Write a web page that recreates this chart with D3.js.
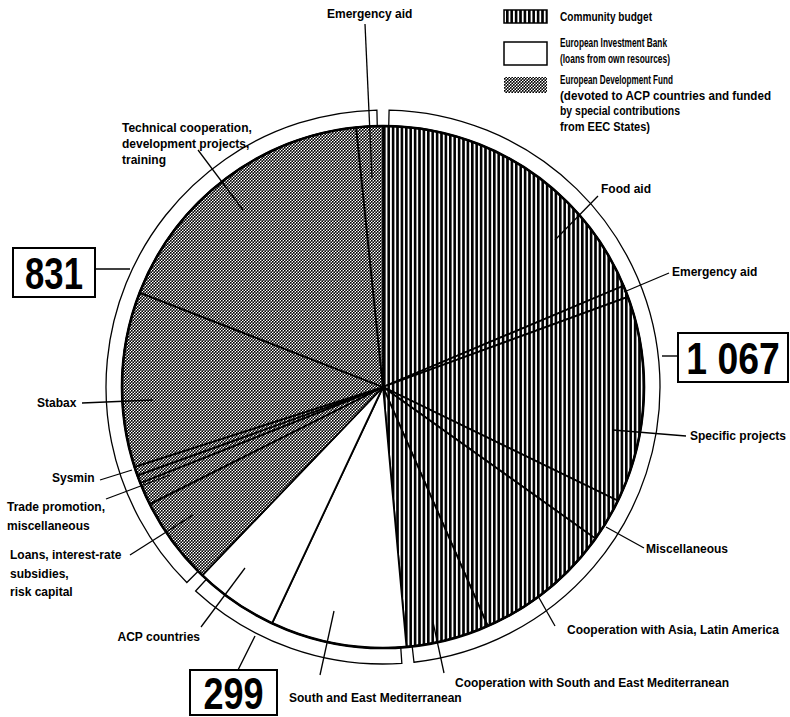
<!DOCTYPE html>
<html>
<head>
<meta charset="utf-8">
<script src="https://cdn.jsdelivr.net/npm/d3@7"></script>
<style>
  body { margin: 0; background: #fff; }
  svg { display: block; }
  text { font-family: "Liberation Sans", Arial, sans-serif; font-weight: bold; fill: #000; }
</style>
</head>
<body>
<svg id="chart"></svg>
<script>
// group totals (million ECU), clockwise from the top
const groupNames = ["Community budget", "European Investment Bank", "European Development Fund"];
const groupTotals = [1067, 299, 831];
const groupTotalLabels = ["1 067", "299", "831"];

// Community budget slices
const budgetLabels = ["Food aid", "Emergency aid", "Specific projects", "Miscellaneous",
  "Cooperation with Asia, Latin America", "Cooperation with South and East Mediterranean"];
const budgetValues = [410, 16, 281, 59, 188, 113];

// European Investment Bank slices
const eibLabels = ["South and East Mediterranean", "ACP countries"];
const eibValues = [185, 114];

// European Development Fund slices
const edfLabels = ["Loans, interest-rate subsidies, risk capital", "Trade promotion", "miscellaneous",
  "Sysmin", "Stabax", "Technical cooperation, development projects, training", "Emergency aid"];
const edfValues = [119, 31, 11, 12, 238, 384, 36];

const legendLines = [
  ["Community budget"],
  ["European Investment Bank", "(loans from own resources)"],
  ["European Development Fund", "(devoted to ACP countries and funded", "by special contributions", "from EEC States)"]
];

const width = 790, height = 717;
const cx = 383, cy = 387, r = 261, R = 277;

const svg = d3.select("#chart").attr("width", width).attr("height", height);
svg.append("rect").attr("width", width).attr("height", height).attr("fill", "#fff");

// fill patterns
const defs = svg.append("defs");
const stripes = defs.append("pattern").attr("id", "stripes")
  .attr("patternUnits", "userSpaceOnUse").attr("width", 4.4).attr("height", 10);
stripes.append("rect").attr("width", 4.4).attr("height", 10).attr("fill", "#fff");
stripes.append("rect").attr("width", 2.6).attr("height", 10).attr("fill", "#000");

const dots = defs.append("pattern").attr("id", "dots")
  .attr("patternUnits", "userSpaceOnUse").attr("width", 3).attr("height", 3);
dots.append("rect").attr("width", 3).attr("height", 3).attr("fill", "#fff");
dots.append("circle").attr("cx", 0.75).attr("cy", 0.75).attr("r", 0.95).attr("fill", "#000");
dots.append("circle").attr("cx", 2.25).attr("cy", 2.25).attr("r", 0.95).attr("fill", "#000");

const groupFill = ["url(#stripes)", "#fff", "url(#dots)"];

// all slices, in drawing order
const slices = [];
budgetValues.forEach((v, i) => slices.push({ group: 0, label: budgetLabels[i], value: v }));
eibValues.forEach((v, i) => slices.push({ group: 1, label: eibLabels[i], value: v }));
edfValues.forEach((v, i) => slices.push({ group: 2, label: edfLabels[i], value: v }));

const pie = d3.pie().sort(null).value(d => d.value).startAngle(0).endAngle(2 * Math.PI);
const arcs = pie(slices);
const arc = d3.arc().innerRadius(0).outerRadius(r);

const g = svg.append("g").attr("transform", `translate(${cx},${cy})`);

g.selectAll("path.slice")
  .data(arcs)
  .join("path")
  .attr("class", "slice")
  .attr("d", arc)
  .attr("fill", d => groupFill[d.data.group])
  .attr("stroke", "#000")
  .attr("stroke-width", 1.8)
  .attr("stroke-linejoin", "round");

g.append("circle").attr("r", r).attr("fill", "none").attr("stroke", "#000").attr("stroke-width", 2.6);

// outer brackets per group
const groupArcs = d3.pie().sort(null).startAngle(0).endAngle(2 * Math.PI)(groupTotals);
const ring = d3.arc().innerRadius(r).outerRadius(R);
const gap = 0.022;
g.selectAll("path.ring")
  .data(groupArcs)
  .join("path")
  .attr("class", "ring")
  .attr("d", d => ring({ startAngle: d.startAngle + gap, endAngle: d.endAngle - gap }))
  .attr("fill", "none")
  .attr("stroke", "#000")
  .attr("stroke-width", 1.3);

// slice labels: text position, line step, pointer line
const labelLayout = [
  { text: ["Food aid"], x: 601, y: 193, anchor: "start", line: [[598, 196], [555, 240]] },
  { text: ["Emergency aid"], x: 672, y: 276, anchor: "start", line: [[669, 273], [624, 292]] },
  { text: ["Specific projects"], x: 690, y: 440, anchor: "start", line: [[686, 436], [613, 430]] },
  { text: ["Miscellaneous"], x: 646, y: 553, anchor: "start", line: [[644, 548], [606, 527]] },
  { text: ["Cooperation with Asia, Latin America"], x: 567, y: 634, anchor: "start", line: [[555, 626], [538, 596]] },
  { text: ["Cooperation with South and East Mediterranean"], x: 455, y: 687, anchor: "start", line: [[444, 673], [433, 622]] },
  { text: ["South and East Mediterranean"], x: 289, y: 702, anchor: "start", line: [[320, 675], [334, 611]] },
  { text: ["ACP countries"], x: 200, y: 641, anchor: "end", line: [[201, 627], [245, 568]] },
  { text: ["Loans, interest-rate", "subsidies,", "risk capital"], x: 10, y: 559, step: 18.5, anchor: "start", line: [[130, 555], [193, 515]] },
  { text: ["Trade promotion,", "miscellaneous"], x: 7, y: 511, step: 19, anchor: "start", line: [[106, 499], [170, 475]] },
  { text: ["Sysmin"], x: 52, y: 482, anchor: "start", line: [[100, 480], [132, 470]] },
  { text: ["Stabax"], x: 37, y: 407, anchor: "start", line: [[82, 403], [153, 400]] },
  { text: ["Technical cooperation,", "development projects,", "training"], x: 122, y: 132, step: 16, anchor: "start", line: [[198, 150], [243, 210]] },
  { text: ["Emergency aid"], x: 327, y: 18, anchor: "start", line: [[365, 24], [372, 178]] }
];

const labels = svg.append("g").attr("class", "labels");
labelLayout.forEach(l => {
  labels.append("line")
    .attr("x1", l.line[0][0]).attr("y1", l.line[0][1])
    .attr("x2", l.line[1][0]).attr("y2", l.line[1][1])
    .attr("stroke", "#000").attr("stroke-width", 1.3);
  const t = labels.append("text")
    .attr("x", l.x).attr("y", l.y)
    .attr("text-anchor", l.anchor)
    .style("font-size", "12px");
  l.text.forEach((s, i) => {
    t.append("tspan").attr("x", l.x).attr("dy", i === 0 ? 0 : l.step).text(s);
  });
});

// group total boxes (condensed figures)
const totalBoxes = [
  { x: 678, y: 333, w: 110, h: 49, sx: 0.83, line: [[662, 356], [678, 356]] },
  { x: 190, y: 670, w: 87, h: 45, sx: 0.8, line: [[238, 670], [255, 636]] },
  { x: 13, y: 248, w: 82, h: 49, sx: 0.77, line: [[95, 269], [130, 269]] }
];
const totals = svg.append("g").attr("class", "totals");
totalBoxes.forEach((b, i) => {
  totals.append("line")
    .attr("x1", b.line[0][0]).attr("y1", b.line[0][1])
    .attr("x2", b.line[1][0]).attr("y2", b.line[1][1])
    .attr("stroke", "#000").attr("stroke-width", 1.4);
  totals.append("rect")
    .attr("x", b.x).attr("y", b.y).attr("width", b.w).attr("height", b.h)
    .attr("fill", "#fff").attr("stroke", "#000").attr("stroke-width", 2);
  totals.append("text")
    .attr("transform", `translate(${b.x + b.w / 2},${b.y + b.h / 2 + 16}) scale(${b.sx},1)`)
    .attr("text-anchor", "middle")
    .style("font-size", "45px")
    .text(groupTotalLabels[i]);
});

// legend
const legend = svg.append("g").attr("class", "legend");
const legendSwatches = [
  { y: 10, h: 13, first: 21, widths: [92] },
  { y: 42, h: 23, first: 47, widths: [107, 110] },
  { y: 77, h: 16, first: 84, widths: [113, 211, 120, 90] }
];
legendSwatches.forEach((s, i) => {
  legend.append("rect")
    .attr("x", 504).attr("y", s.y).attr("width", 43).attr("height", s.h)
    .attr("fill", groupFill[i])
    .attr("stroke", i === 2 ? "none" : "#000")
    .attr("stroke-width", 1.5);
  legendLines[i].forEach((s2, j) => {
    legend.append("text")
      .attr("x", 560).attr("y", s.first + j * 15.7)
      .attr("textLength", s.widths[j])
      .attr("lengthAdjust", "spacingAndGlyphs")
      .style("font-size", "12.5px")
      .text(s2);
  });
});
</script>
</body>
</html>
